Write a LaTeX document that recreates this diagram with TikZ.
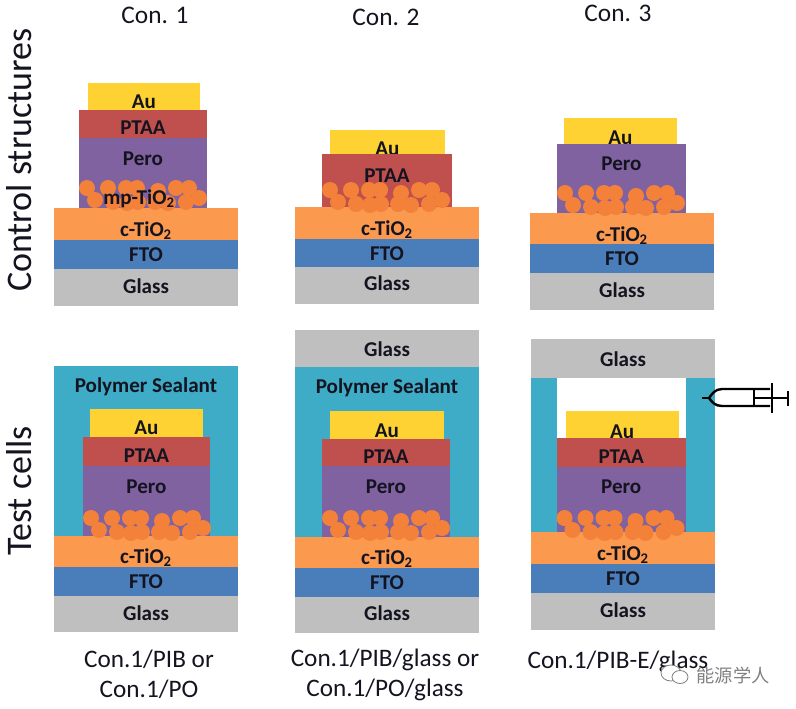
\documentclass[tikz,border=0pt]{standalone}
\usepackage{fontspec}
\setmainfont{Carlito}
\newfontfamily\cjkfont{Noto Sans CJK SC}
\usetikzlibrary{positioning}
\definecolor{aucol}{HTML}{FFD233}
\definecolor{ptaacol}{HTML}{C0504D}
\definecolor{perocol}{HTML}{8062A0}
\definecolor{ctiocol}{HTML}{FB9A4F}
\definecolor{dotcol}{HTML}{F3813A}
\definecolor{ftocol}{HTML}{4A7EBB}
\definecolor{glasscol}{HTML}{BFBFBF}
\definecolor{sealcol}{HTML}{3EABC7}
\definecolor{inkcol}{HTML}{141420}
% one layer: name, x0, y0, x1, y1, colour, label y, label
\newcommand{\layer}[8]{
  \path[fill=#6] (#2,#3) rectangle (#4,#5);
  \node[layer text] (#1) at ({(#2+#4)/2},#7) {#8};
}
% the mesoporous particles, (#1,#2) is the lower left corner
\newcommand{\particles}[2]{
  \begin{scope}[shift={(#1,#2)}]
    \foreach \px/\py in {8/-20,29/-20,47/-20,58/-20,79/-17,97/-20,110/-20,
      16/-8,34/-6,48/-5,59/-6,76/-6,89/-5,107/-6,120/-10}
      \fill[dotcol] (\px,\py) circle[radius=8];
  \end{scope}
}
\begin{document}
\begin{tikzpicture}[x=0.75pt,y=-0.75pt,
    layer text/.style={font=\bfseries\fontsize{15.8}{18}\selectfont,text=inkcol,inner sep=0pt,yshift=-0.75pt},
    plain text/.style={font=\fontsize{18.9}{22}\selectfont,text=inkcol,inner sep=0pt},
    head text/.style={font=\fontsize{19}{22}\selectfont,text=inkcol,inner sep=0pt},
    side text/.style={font=\fontsize{27}{32}\selectfont,text=inkcol,inner sep=0pt,rotate=90},
    syringe/.style={line width=1.8pt,color=black}]
  \useasboundingbox (0,0) rectangle (796,708);

  \node[head text] (head a) at (155,15) {Con. 1};
  \node[head text] (head b) at (386,17) {Con. 2};
  \node[head text] (head c) at (618,13) {Con. 3};
  \node[side text] (side a) at (19,160) {Control structures};
  \node[side text] (side b) at (19,491) {Test cells};

  % Con. 1
  \layer{a au}{88}{83}{200}{110}{aucol}{101}{Au}
  \layer{a ptaa}{79}{110}{207}{137.5}{ptaacol}{127}{PTAA}
  \layer{a pero}{79}{137.5}{207}{208}{perocol}{158}{Pero}
  \layer{a ctio}{54}{208}{238}{240}{ctiocol}{230}{c-TiO\textsubscript{2}}
  \layer{a fto}{54}{240}{238}{268.5}{ftocol}{254}{FTO}
  \layer{a glass}{54}{268.5}{238}{306}{glasscol}{285}{Glass}
  \particles{79}{208}
  \node[layer text] (a mp) at (139,198) {mp-TiO\textsubscript{2}};

  % Con. 2
  \layer{b au}{330}{130}{445}{154}{aucol}{148}{Au}
  \layer{b ptaa}{322}{154}{452}{207}{ptaacol}{175}{PTAA}
  \layer{b ctio}{295}{207}{479}{238.5}{ctiocol}{229}{c-TiO\textsubscript{2}}
  \layer{b fto}{295}{238.5}{479}{267}{ftocol}{253}{FTO}
  \layer{b glass}{295}{267}{479}{304}{glasscol}{282}{Glass}
  \particles{322}{210}

  % Con. 3
  \layer{c au}{564}{118}{677}{144}{aucol}{137}{Au}
  \layer{c pero}{557}{144}{686}{213}{perocol}{163}{Pero}
  \layer{c ctio}{530}{213}{714}{244}{ctiocol}{235}{c-TiO\textsubscript{2}}
  \layer{c fto}{530}{244}{714}{273}{ftocol}{258}{FTO}
  \layer{c glass}{530}{273}{714}{310}{glasscol}{289}{Glass}
  \particles{557}{213}

  % PIB or PO cell
  \layer{d seal}{54}{366}{238}{536}{sealcol}{386}{Polymer Sealant}
  \layer{d au}{90}{409}{203}{437}{aucol}{427}{Au}
  \layer{d ptaa}{83}{437}{210}{466}{ptaacol}{455}{PTAA}
  \layer{d pero}{83}{466}{210}{536}{perocol}{486}{Pero}
  \layer{d ctio}{54}{536}{238}{567}{ctiocol}{557}{c-TiO\textsubscript{2}}
  \layer{d fto}{54}{567}{238}{596}{ftocol}{581}{FTO}
  \layer{d glass}{54}{596}{238}{632}{glasscol}{612}{Glass}
  \particles{83}{538}

  % PIB or PO with glass
  \layer{e top}{295}{330}{479}{367}{glasscol}{348}{Glass}
  \layer{e seal}{295}{367}{479}{537}{sealcol}{387}{Polymer Sealant}
  \layer{e au}{330}{411}{444}{439}{aucol}{430}{Au}
  \layer{e ptaa}{322}{439}{450}{466}{ptaacol}{456}{PTAA}
  \layer{e pero}{322}{466}{450}{537}{perocol}{486}{Pero}
  \layer{e ctio}{295}{537}{479}{568}{ctiocol}{558}{c-TiO\textsubscript{2}}
  \layer{e fto}{295}{568}{479}{597}{ftocol}{582}{FTO}
  \layer{e glass}{295}{597}{479}{633}{glasscol}{612}{Glass}
  \particles{322}{538}

  % PIB-E with glass, the space is left open
  \layer{f top}{531}{339}{715}{378}{glasscol}{358}{Glass}
  \path[fill=sealcol] (531,378) rectangle (556.5,532);
  \path[fill=sealcol] (686,378) rectangle (715,532);
  \layer{f au}{565.5}{411}{679}{438}{aucol}{431}{Au}
  \layer{f ptaa}{556.5}{438}{686}{467}{ptaacol}{456}{PTAA}
  \layer{f pero}{556.5}{467}{686}{532}{perocol}{486}{Pero}
  \layer{f ctio}{531}{532}{715}{564}{ctiocol}{554}{c-TiO\textsubscript{2}}
  \layer{f fto}{531}{564}{715}{593}{ftocol}{578}{FTO}
  \layer{f glass}{531}{593}{715}{630}{glasscol}{609}{Glass}
  \particles{556.5}{538}

  % syringe
  \draw[syringe] (702,398) -- (709,398);
  \draw[syringe] (770,389) -- (722,389) .. controls (715,389) and (712,394) .. (709,398)
    .. controls (712,402) and (715,406) .. (722,406) -- (770,406);
  \draw[syringe] (772,383) -- (772,413);
  \draw[syringe] (754,389) -- (754,406);
  \draw[syringe] (754,398) -- (788,398);
  \draw[syringe] (788,391) -- (788,406);

  \node[plain text] (foot a1) at (149,659) {Con.1/PIB or};
  \node[plain text] (foot a2) at (149,689) {Con.1/PO};
  \node[plain text] (foot b1) at (385,660) {Con.1/PIB/glass or};
  \node[plain text] (foot b2) at (385,690) {Con.1/PO/glass};
  \node[plain text] (foot c1) at (618,662) {Con.1/PIB-E/glass};

  % watermark
  \draw[gray,fill=white,line width=0.6pt] (671,673) ellipse[x radius=10,y radius=8];
  \draw[gray,fill=white,line width=0.6pt] (680,677) ellipse[x radius=8,y radius=6.5];
  \node[font=\cjkfont\fontsize{13.7}{16}\selectfont,text=gray,inner sep=0pt] (mark) at (733,675) {能源学人};
\end{tikzpicture}
\end{document}
